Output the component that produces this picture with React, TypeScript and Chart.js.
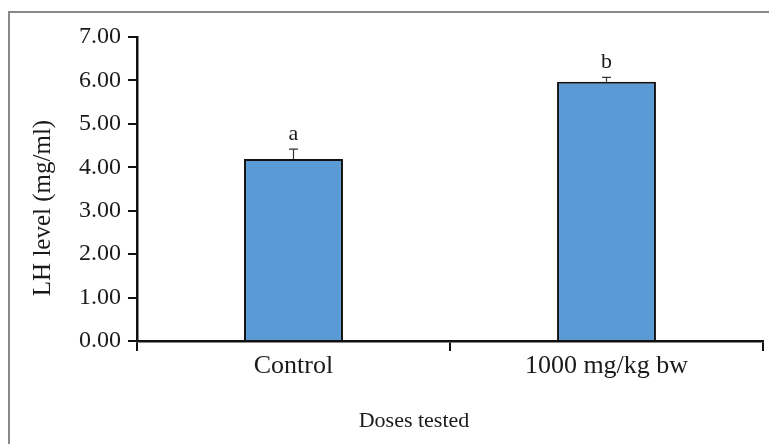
import { useEffect, useRef } from 'react';
import Chart from 'chart.js/auto';

const categories = ['Control', '1000 mg/kg bw'];
const lhMeans = [4.19, 5.97];
const lhErrors = [0.23, 0.1];
const sigLetters = ['a', 'b'];
const yMin = 0;
const yMax = 7;
const yStep = 1;
const xTitle = 'Doses tested';
const yTitle = 'LH level (mg/ml)';

const FONT = '"Liberation Serif", "Times New Roman", serif';
const TEXT = '#1a1a1a';

export default function App() {
  const ref = useRef<HTMLCanvasElement>(null);

  useEffect(() => {
    if (!ref.current) return;
    document.documentElement.style.overflow = 'hidden';
    const annot = {
      id: 'annot',
      afterDatasetsDraw(chart: any) {
        const ctx = chart.ctx;
        const meta = chart.getDatasetMeta(0);
        const ys = chart.scales.y;
        ctx.save();
        meta.data.forEach((bar: any, i: number) => {
          const x = bar.x;
          const top = ys.getPixelForValue(lhMeans[i]);
          const hi = ys.getPixelForValue(lhMeans[i] + lhErrors[i]);
          ctx.strokeStyle = '#333';
          ctx.lineWidth = 1.2;
          ctx.beginPath();
          ctx.moveTo(x, top);
          ctx.lineTo(x, hi);
          ctx.moveTo(x - 4.5, hi);
          ctx.lineTo(x + 4.5, hi);
          ctx.stroke();
          ctx.fillStyle = TEXT;
          ctx.font = `22px ${FONT}`;
          ctx.textAlign = 'center';
          ctx.textBaseline = 'middle';
          ctx.fillText(sigLetters[i], x, hi - 15);
        });
        const ca = chart.chartArea;
        ctx.fillStyle = TEXT;
        ctx.textAlign = 'center';
        ctx.textBaseline = 'middle';
        ctx.font = `22px ${FONT}`;
        ctx.fillText(xTitle, (ca.left + ca.right) / 2 - 36, chart.height - 12);
        ctx.translate(33, (ca.top + ca.bottom) / 2 + 19);
        ctx.rotate(-Math.PI / 2);
        ctx.font = `25px ${FONT}`;
        ctx.fillText(yTitle, 0, 0);
        ctx.restore();
      },
    };

    const chart = new Chart(ref.current, {
      type: 'bar',
      data: {
        labels: categories,
        datasets: [
          {
            data: lhMeans,
            backgroundColor: '#5B9BD5',
            borderColor: '#111',
            borderWidth: 2,
            barPercentage: 0.316,
            categoryPercentage: 1,
          },
        ],
      },
      options: {
        responsive: false,
        animation: false,
        layout: { padding: { top: 24, right: 6, left: 0, bottom: 0 } },
        plugins: {
          legend: { display: false },
          tooltip: { enabled: false },
        },
        scales: {
          x: {
            afterFit(scale: any) {
              scale.height = 92;
            },
            grid: {
              display: true,
              drawOnChartArea: false,
              drawTicks: true,
              tickLength: 10,
              color: '#111',
              lineWidth: 2,
              offset: true,
            },
            border: { display: true, color: '#111', width: 2.5 },
            ticks: {
              color: TEXT,
              padding: 0,
              font: { family: FONT, size: 26 },
            },
          },
          y: {
            min: yMin,
            max: yMax,
            afterFit(scale: any) {
              scale.width = 127;
            },
            grid: {
              display: true,
              drawOnChartArea: false,
              drawTicks: true,
              tickLength: 9,
              color: '#111',
              lineWidth: 2,
            },
            border: { display: true, color: '#111', width: 2.5 },
            ticks: {
              stepSize: yStep,
              color: TEXT,
              padding: 7,
              font: { family: FONT, size: 24 },
              callback: (v: any) => Number(v).toFixed(2),
            },
          },
        },
      },
      plugins: [annot],
    });
    return () => chart.destroy();
  }, []);

  return (
    <div style={{ paddingTop: 3 }}>
      <div
        style={{
          borderTop: '2px solid #888',
          borderLeft: '2px solid #888',
          width: 759,
          height: 431,
        }}
      >
        <canvas ref={ref} width={759} height={420} style={{ display: 'block' }} />
      </div>
    </div>
  );
}
